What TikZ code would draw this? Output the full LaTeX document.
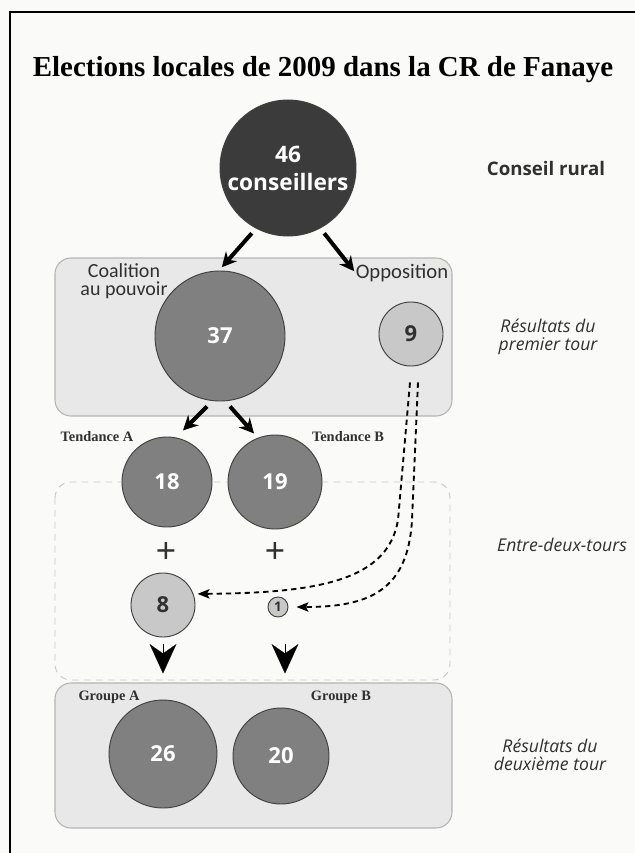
\documentclass[tikz,border=0pt]{standalone}
\usepackage{fontspec}
\usetikzlibrary{arrows.meta}
\setmainfont{Liberation Serif}
\setsansfont{Open Sans}
\newfontfamily\calib{Carlito}

\definecolor{bgpage}{HTML}{FAFAF9}
\definecolor{darkdisc}{HTML}{3B3B3B}
\definecolor{middisc}{HTML}{808080}
\definecolor{lightdisc}{HTML}{C8C8C8}
\definecolor{panelfill}{HTML}{E8E8E8}
\definecolor{panelline}{HTML}{B4B4B4}
\definecolor{txtgray}{HTML}{303030}

\tikzset{
  disc/.style={draw=black!75, line width=0.7pt, circle, inner sep=0pt,
    font=\sffamily\bfseries\fontsize{16.5}{18}\selectfont},
  big/.style={disc, fill=middisc, text=white},
  small/.style={disc, fill=lightdisc, text=txtgray},
  panel/.style={draw=panelline, fill=panelfill, line width=0.8pt, rounded corners=12pt},
  dashpanel/.style={draw=black!22, dash pattern=on 5pt off 4pt, line width=0.7pt, rounded corners=12pt},
  fatarrow/.style={-{Stealth[length=11pt,width=11pt]}, line width=3pt},
  dasharrow/.style={-{Stealth[length=9pt,width=7pt,inset=2pt]}, line width=1.4pt,
    dash pattern=on 4pt off 3pt},
  bigtip/.style={-{Stealth[length=22pt,width=20pt,inset=7pt]}, line width=0.1pt},
  serifbold/.style={font=\bfseries\fontsize{10.8}{12}\selectfont, text=txtgray},
  tour/.style={font=\sffamily\itshape\fontsize{13.2}{13}\selectfont, align=center, text=txtgray}
}

\begin{document}
\begin{tikzpicture}[x=0.75pt, y=-0.75pt]
  \useasboundingbox (0,0) rectangle (635,853);
  \fill[bgpage] (0,0) rectangle (635,853);
  \draw[line width=2.2pt] (10,853) -- (10,12) -- (635,12);

  % les trois cadres
  \draw[panel] (55,258) rectangle (452,416);
  \draw[dashpanel] (55,482) rectangle (450,680);
  \draw[panel] (55,683) rectangle (452,828);

  \node[font=\bfseries\fontsize{21.7}{26}\selectfont] (title) at (323,70)
    {Elections locales de 2009 dans la CR de Fanaye};

  \node[disc, fill=darkdisc, text=white, minimum size=102pt, align=center,
    font=\sffamily\bfseries\fontsize{17}{21}\selectfont] (c46) at (288,168) {46\\conseillers};

  \def \Discs{
    c37/220/336/65/big/37,
    c9/411/334/32/small/9,
    c18/167/482/45/big/18,
    c19/275/482/47/big/19,
    c8/163/605/32/small/8,
    c26/163/754/54/big/26,
    c20/281/756/48/big/20}
  \foreach \id / \x / \y / \r / \kind / \lbl in \Discs{
    \node[\kind, minimum size=1.5pt*\r] (\id) at (\x, \y) {\lbl};
  }
  \node[small, minimum size=15pt, font=\sffamily\bfseries\fontsize{10}{10}\selectfont] (c1) at (278,607) {1};

  \node[font=\sffamily\bfseries\fontsize{14}{16}\selectfont, text=txtgray] (conseil) at (546,168) {Conseil rural};
  \node[font=\calib\fontsize{15}{14}\selectfont, align=center, text=txtgray] (coal) at (124,281) {Coalition\\au pouvoir};
  \node[font=\calib\fontsize{15.5}{12}\selectfont, text=txtgray] (oppo) at (402,273) {Opposition};
  \node[serifbold] (tendA) at (97,437) {Tendance A};
  \node[serifbold] (tendB) at (348,437) {Tendance B};
  \node[serifbold] (grpA) at (109,697) {Groupe A};
  \node[serifbold] (grpB) at (341,697) {Groupe B};
  \node[tour] (tour1) at (548,337) {Résultats du\\premier tour};
  \node[tour] (entre) at (562,545) {Entre-deux-tours};
  \node[tour] (tour2) at (550,755) {Résultats du\\deuxième tour};

  \foreach \id / \x in {plusA/166, plusB/275}{
    \node[font=\fontspec{Liberation Sans}\fontsize{26}{26}\selectfont, text=txtgray] (\id) at (\x, 552) {+};
  }

  % fleches
  \draw[fatarrow] (c46.240) ++(-2,6) -- ++(-30,34);
  \draw[fatarrow] (c46.300) ++(2,6) -- ++(30,38);
  \draw[fatarrow] (c37.south) ++(-13,5) -- ++(-24,24);
  \draw[fatarrow] (c37.south) ++(10,5) -- ++(24,27);
  \draw[dasharrow] (c9.south) ++(-1,16) -- (398,520) .. controls (388,580) and (320,593) .. ([xshift=3pt]c8.20);
  \draw[dasharrow] (c9.south) ++(7,16) -- (412,520) .. controls (408,590) and (370,607) .. ([xshift=6pt]c1.east);
  \draw[bigtip] (c8.south) ++(0,7) -- ++(0,29);
  \draw[bigtip] (c1.south) ++(7,27) -- ++(0,29);
\end{tikzpicture}
\end{document}
